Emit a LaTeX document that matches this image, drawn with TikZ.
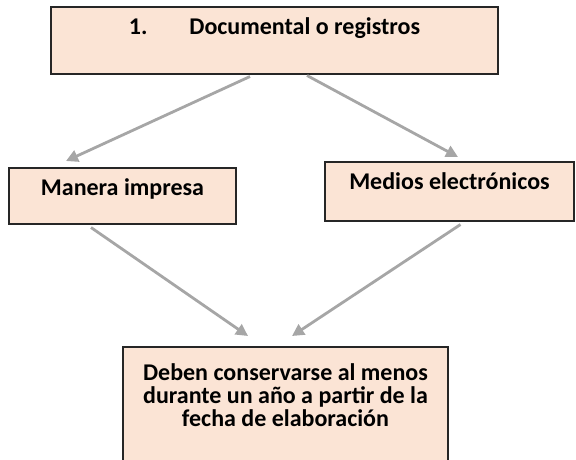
\documentclass[tikz,border=0pt]{standalone}
\usepackage{fontspec}
\setmainfont{Carlito}
\usetikzlibrary{arrows.meta}
\definecolor{peach}{RGB}{251,228,213}
\definecolor{arrowgray}{RGB}{166,166,166}
\newcommand{\boxfont}{\fontsize{24}{23}\selectfont\bfseries\lineskiplimit=-100pt\relax}
\begin{document}
\begin{tikzpicture}[x=1pt,y=-1pt,
  box/.style={draw=black!85,line width=1.5pt,fill=peach,inner xsep=0pt,inner ysep=0pt,
    font=\boxfont,anchor=north},
  flow/.style={color=arrowgray,line width=2.8pt,-{Triangle[length=12pt,width=12pt]}}]

\useasboundingbox (0,0) rectangle (576,459);

\node[box,minimum width=447pt,text height=28pt,text depth=39pt] (doc) at (274.5,6) {1.\hspace{42pt}Documental o registros};
\node[box,minimum width=227pt,text height=28pt,text depth=28pt] (manera) at (122.5,167) {Manera impresa};
\node[box,minimum width=249pt,text height=28pt,text depth=31pt] (medios) at (449.5,161) {Medios electrónicos};
\node[box,minimum width=325pt,align=center,inner ysep=17pt,text depth=100pt] (fin) at (285.5,346)
  {Deben conservarse al menos\\durante un año a partir de la\\fecha de elaboración};

\draw[flow] ([xshift=-24.5pt,yshift=-2pt]doc.south) -- ([xshift=-56.5pt,yshift=6pt]manera.north);
\draw[flow] ([xshift=32.5pt,yshift=-1pt]doc.south) -- ([xshift=8.5pt,yshift=4pt]medios.north);
\draw[flow] ([xshift=-31.5pt,yshift=-3pt]manera.south) -- ([xshift=-37.5pt,yshift=10pt]fin.north);
\draw[flow] ([xshift=11pt,yshift=-3pt]medios.south) -- ([xshift=6.5pt,yshift=10pt]fin.north);

\end{tikzpicture}
\end{document}
